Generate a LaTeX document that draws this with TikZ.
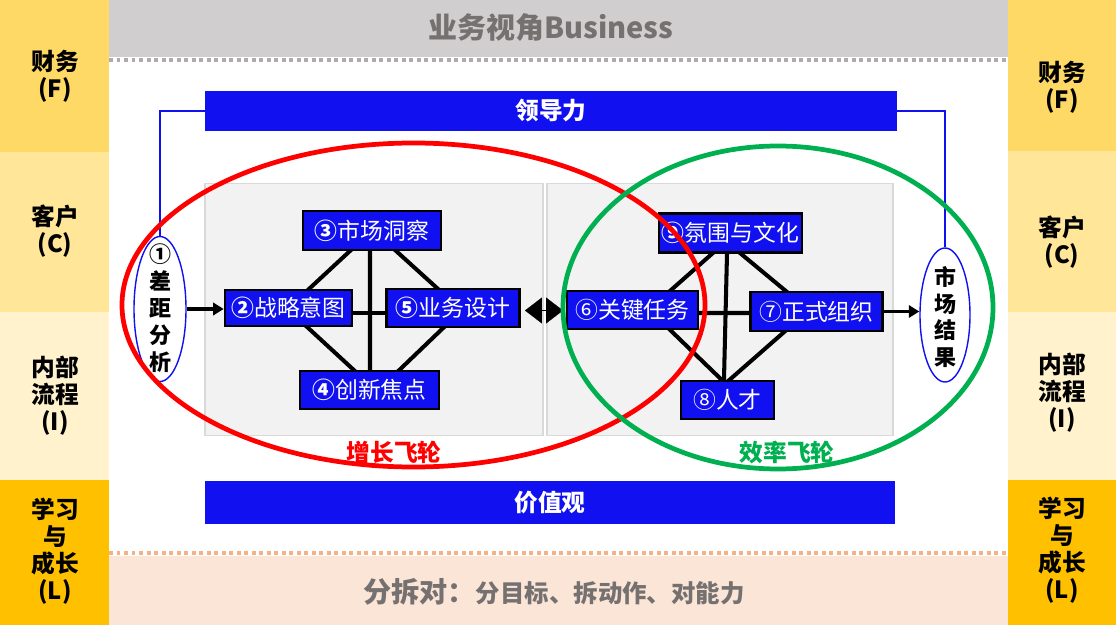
\documentclass[tikz,border=0pt]{standalone}
\usepackage{fontspec}
\newfontfamily\cjk{Noto Sans CJK SC}
\usetikzlibrary{shapes.geometric,arrows.meta,calc}
\newdimen\pxu \pxu=0.02cm
\definecolor{bblue}{RGB}{16,16,240}
\definecolor{cF}{RGB}{255,217,102}
\definecolor{cC}{RGB}{255,230,153}
\definecolor{cI}{RGB}{255,242,204}
\definecolor{cL}{RGB}{255,192,0}
\definecolor{topgray}{RGB}{208,206,206}
\definecolor{dotgray}{RGB}{175,171,171}
\definecolor{txtgray}{RGB}{118,113,113}
\definecolor{peach}{RGB}{251,229,214}
\definecolor{dotpeach}{RGB}{244,177,131}
\definecolor{panelfill}{RGB}{242,242,242}
\definecolor{paneldraw}{RGB}{217,217,217}
\definecolor{ggreen}{RGB}{0,176,80}
\pgfdeclarelayer{bg}
\pgfdeclarelayer{lk}
\pgfsetlayers{bg,lk,main}
\newcommand{\cn}[1]{{\bfseries #1}}
\begin{document}
\begin{tikzpicture}[x=0.02cm,y=-0.02cm,
  side/.style={align=center,font=\cjk\bfseries\fontsize{13.5}{15.3}\selectfont,text=black,inner sep=0},
  bar/.style={fill=bblue,inner sep=0,text=white,font=\cjk\bfseries\fontsize{13.5}{15}\selectfont},
  panel/.style={fill=panelfill,draw=paneldraw,line width=1.1pt,inner sep=0},
  stepbox/.style={draw=black,line width=1.5pt,fill=bblue,text=white,inner sep=0,
     font=\cjk\fontsize{13}{14}\selectfont},
  ell/.style={ellipse,draw=bblue,line width=0.8pt,fill=white,inner sep=0},
  elltext/.style={align=center,inner sep=0,font=\cjk\bfseries\fontsize{12.5}{15.3}\selectfont},
  link/.style={draw=black,line width=2.3pt},
  arr/.style={draw=black,line width=1.8pt,-{Triangle[length=6pt,width=7pt]}},
  blueline/.style={draw=bblue,line width=0.8pt},
  dotline/.style={line width=2.2pt,dash pattern=on 2.27pt off 2pt}
]
\useasboundingbox (0,0) rectangle (1116,625);
\begin{pgfonlayer}{bg}
% side bands
\fill[cF] (0,0) rectangle (109,152);
\fill[cC] (0,152) rectangle (109,312);
\fill[cI] (0,312) rectangle (109,480);
\fill[cL] (0,480) rectangle (109,625);
\fill[cF] (1008,0) rectangle (1116,151);
\fill[cC] (1008,151) rectangle (1116,312);
\fill[cI] (1008,312) rectangle (1116,480);
\fill[cL] (1008,480) rectangle (1116,625);
% top and bottom bands
\fill[topgray] (109,0) rectangle (1008,57);
\draw[dotline,draw=dotgray] (109,60) -- (1008,60);
\fill[peach] (109,556) rectangle (1008,625);
\draw[dotline,draw=dotpeach] (109,553) -- (1008,553);
% panels
\node[panel,minimum width=338\pxu,minimum height=252\pxu] (pl) at (374,309.5) {};
\node[panel,minimum width=346\pxu,minimum height=252\pxu] (pr) at (720,309.5) {};
\end{pgfonlayer}
\node[side] (lF) at (55,76) {财务\\(F)};
\node[side] (lC) at (55,231) {客户\\(C)};
\node[side] (lI) at (55,396) {内部\\流程\\(I)};
\node[side] (lL) at (55,551) {学习\\与\\成长\\(L)};
\node[side] (rF) at (1062,87) {财务\\(F)};
\node[side] (rC) at (1062,242) {客户\\(C)};
\node[side] (rI) at (1062,393) {内部\\流程\\(I)};
\node[side] (rL) at (1062,550) {学习\\与\\成长\\(L)};
\node[font=\cjk\bfseries\fontsize{16.5}{18}\selectfont,text=txtgray] (title) at (551,28) {业务视角Business};
\node[text=txtgray,font=\cjk\bfseries] (foot) at (554,592)
  {{\fontsize{16}{18}\selectfont 分拆对：}{\fontsize{13.9}{16}\selectfont 分目标、拆动作、对能力}};
% bars
\node[bar,minimum width=692\pxu,minimum height=40\pxu] (lead) at (551,111) {领导力};
\node[bar,minimum width=690\pxu,minimum height=43\pxu] (val) at (550,502.5) {价值观};
% side ellipses
\node[ell,minimum width=52\pxu,minimum height=145\pxu] (gap) at (160,309) {};
\node[elltext] (gapt) at (160,308) {①\\差\\距\\分\\析};
\node[ell,minimum width=50\pxu,minimum height=134\pxu] (mkt) at (945,315) {};
\node[elltext] (mktt) at (945,317) {市\\场\\结\\果};
\draw[blueline] (lead.west) -| (gap.north);
\draw[blueline] (lead.east) -| (mkt.north);
% boxes
\node[stepbox,minimum width=138\pxu,minimum height=39\pxu] (n3) at (372,230.5) {\cn{③}市场洞察};
\node[stepbox,minimum width=127\pxu,minimum height=36\pxu] (n2) at (288.5,308) {\cn{②}战略意图};
\node[stepbox,minimum width=133\pxu,minimum height=38\pxu] (n5) at (453,308) {\cn{⑤}业务设计};
\node[stepbox,minimum width=139\pxu,minimum height=38\pxu] (n4) at (369.5,390) {\cn{④}创新焦点};
\node[stepbox,minimum width=143\pxu,minimum height=39\pxu] (n9) at (730.5,233) {\cn{⑨}氛围与文化};
\node[stepbox,minimum width=131\pxu,minimum height=38\pxu] (n6) at (632.5,310) {⑥关键任务};
\node[stepbox,minimum width=132\pxu,minimum height=39\pxu] (n7) at (816.5,311.5) {⑦正式组织};
\node[stepbox,minimum width=93\pxu,minimum height=38\pxu] (n8) at (727.5,400) {⑧人才};
% links (behind boxes)
\begin{pgfonlayer}{lk}
\draw[link] (n3.center) -- (n2.center);
\draw[link] ($(n3.center)+(1.5,0)$) -- ($(n5.center)+(6,0)$);
\draw[link] ($(n2.center)+(-2,0)$) -- ($(n4.center)+(6,0)$);
\draw[link] ($(n5.center)+(11,0)$) -- ($(n4.center)+(9,0)$);
\draw[link] ($(n3.center)+(-2,0)$) -- ($(n4.center)+(0.5,0)$);
\draw[link] ($(n2.center)+(0,5)$) -- ($(n5.center)+(0,5)$);
\draw[link] ($(n9.center)+(5,0)$) -- ($(n6.center)+(16,0)$);
\draw[link] ($(n9.center)+(-14.6,0)$) -- ($(n7.center)+(-6,0)$);
\draw[link] ($(n6.center)+(17,0)$) -- ($(n8.center)+(15,0)$);
\draw[link] ($(n7.center)+(-9,0)$) -- ($(n8.center)+(-21,0)$);
\draw[link] ($(n9.center)+(-3,0)$) -- ($(n8.center)+(-4,0)$);
\draw[link] ($(n6.center)+(0,3)$) -- ($(n7.center)+(0,1.5)$);
\end{pgfonlayer}
% arrows
\draw[arr] (gap.east) -- (gap.east -| n2.west);
\draw[arr] (n7.east) -- (n7.east -| mkt.west);
\coordinate (dl) at (525,310.5);
\coordinate (dr) at (563,310.5);
\draw[line width=0.1pt,{Triangle[length=9.6pt,width=14.7pt]}-{Triangle[length=9.6pt,width=14.7pt]}] (dl) -- (dr);
% flywheels
\draw[red,line width=2.7pt] (413.5,305) ellipse [x radius=291.5, y radius=162];
\draw[ggreen,line width=2.7pt] (778,307.5) ellipse [x radius=215, y radius=161.5];
\node[text=red,font=\cjk\bfseries\fontsize{13.5}{15}\selectfont] (gw) at (394,452) {增长飞轮};
\node[text=ggreen,font=\cjk\bfseries\fontsize{13.5}{15}\selectfont] (ew) at (787,452) {效率飞轮};
\end{tikzpicture}
\end{document}
